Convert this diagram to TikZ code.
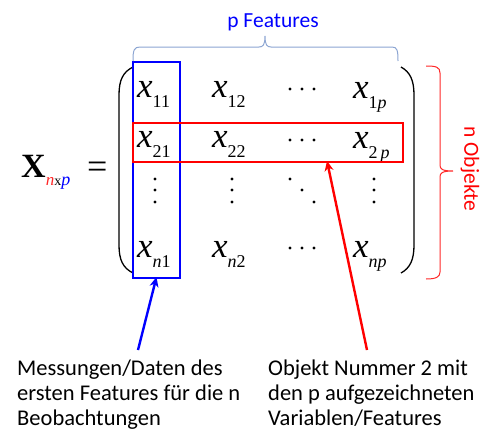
\documentclass[tikz,border=0pt]{standalone}
\usepackage{fontspec}
\setmainfont{Carlito}
\newfontfamily\tms{Liberation Serif}
\usetikzlibrary{arrows.meta}
\definecolor{bracegray}{RGB}{140,165,210}
\definecolor{softred}{RGB}{255,40,40}
\newcommand\xe[1]{{\itshape\fontsize{35}{35}\selectfont x}\raisebox{-10pt}{\fontsize{18}{18}\selectfont #1}}
\begin{document}
\begin{tikzpicture}[x=1pt,y=-1pt,
  ent/.style={anchor=base west,inner sep=0pt,font=\tms},
  dotc/.style={circle,fill=black,inner sep=0pt,minimum size=3.4pt},
  lbl/.style={anchor=base west,inner sep=0pt,align=left,font=\fontsize{22.5}{25}\selectfont},
  paren/.style={line width=1.3pt,black},
  arr/.style={line width=2.4pt,-{Stealth[length=10pt,width=9pt]}}]
\useasboundingbox (0,0) rectangle (497,434);
% big X
\node[anchor=base west,inner sep=0pt] (X) at (21,177) {\tms\bfseries\fontsize{34}{34}\selectfont X\raisebox{-8pt}{\mdseries\fontsize{17}{17}\selectfont\textcolor{softred}{\itshape n}\fontsize{14}{14}\selectfont x\fontsize{18}{18}\selectfont\textcolor{blue}{\itshape p}}};
\node[anchor=base west,inner sep=0pt] (eq) at (87,178) {\tms\fontsize{36}{36}\selectfont =};
% parentheses
\draw[paren] (133,67) .. controls (123,72) and (119,80) .. (119,95) -- (119,245) .. controls (119,260) and (123,268) .. (133,273);
\draw[paren] (401,67) .. controls (410,72) and (414,80) .. (414,95) -- (414,245) .. controls (414,260) and (410,268) .. (401,273);
% entries
\node[ent] (x11) at (137,97) {\xe{11}};
\node[ent] (x12) at (212,97) {\xe{12}};
\node[ent] (x1p) at (353,98) {\xe{1\textit{p}}};
\node[ent] (x21) at (137,147) {\xe{21}};
\node[ent] (x22) at (212,147) {\xe{22}};
\node[ent] (x2p) at (353,148) {\xe{2\,\textit{p}}};
\node[ent] (xn1) at (137,257) {\xe{\textit{n}1}};
\node[ent] (xn2) at (212,257) {\xe{\textit{n}2}};
\node[ent] (xnp) at (353,257) {\xe{\textit{np}}};
% dots
\foreach \y/\r in {89/a,140/b,248/c}
  \foreach \x [count=\i] in {290,302,314}
    \node[dotc] (h\r\i) at (\x,\y) {};
\foreach \x/\c in {155/a,232/b,374/c}
  \foreach \y [count=\i] in {179,190,202}
    \node[dotc] (v\c\i) at (\x,\y) {};
\node[dotc] (dd1) at (290,179) {};
\node[dotc] (dd2) at (302,190) {};
\node[dotc] (dd3) at (314,202) {};
% boxes
\node[draw=blue,line width=2pt,inner sep=0pt,minimum width=47pt,minimum height=216pt] (colbox) at (156.5,170) {};
\node[draw=red,line width=2pt,inner sep=0pt,minimum width=270pt,minimum height=39pt] (rowbox) at (268,142.5) {};
% top brace
\draw[bracegray,line width=1pt] (133,61) .. controls (133,50) and (134,47) .. (140,47) -- (259,47) .. controls (263,47) and (265,45) .. (265,36) .. controls (265,45) and (267,47) .. (271,47) -- (392,47) .. controls (397,47) and (398,50) .. (398,61);
\node[anchor=base,inner sep=0pt,text=blue,font=\fontsize{21.5}{24}\selectfont] (pf) at (273,27) {p Features};
% right brace
\draw[softred,line width=1pt] (426,66) .. controls (436,66) and (440,67) .. (440,73) -- (440,165) .. controls (440,169) and (442,171) .. (453,171) .. controls (442,171) and (440,173) .. (440,177) -- (440,272) .. controls (440,277) and (436,279) .. (426,279);
\node[rotate=-90,inner sep=0pt,text=red,font=\fontsize{21.5}{24}\selectfont] (no) at (470,169) {n Objekte};
% labels
\node[lbl] (lt) at (17,425) {Messungen/Daten des\\ersten Features für die n\\Beobachtungen};
\node[lbl] (rt) at (268,425) {Objekt Nummer 2 mit\\den p aufgezeichneten\\Variablen/Features};
% arrows
\coordinate (bt) at (138,350);
\coordinate (rtail) at (367,350);
\coordinate (rtip) at ([xshift=59pt,yshift=2pt]rowbox.south);
\draw[arr,blue] (bt) -- ([yshift=2pt]colbox.south);
\draw[arr,red] (rtail) -- (rtip);
\end{tikzpicture}
\end{document}
